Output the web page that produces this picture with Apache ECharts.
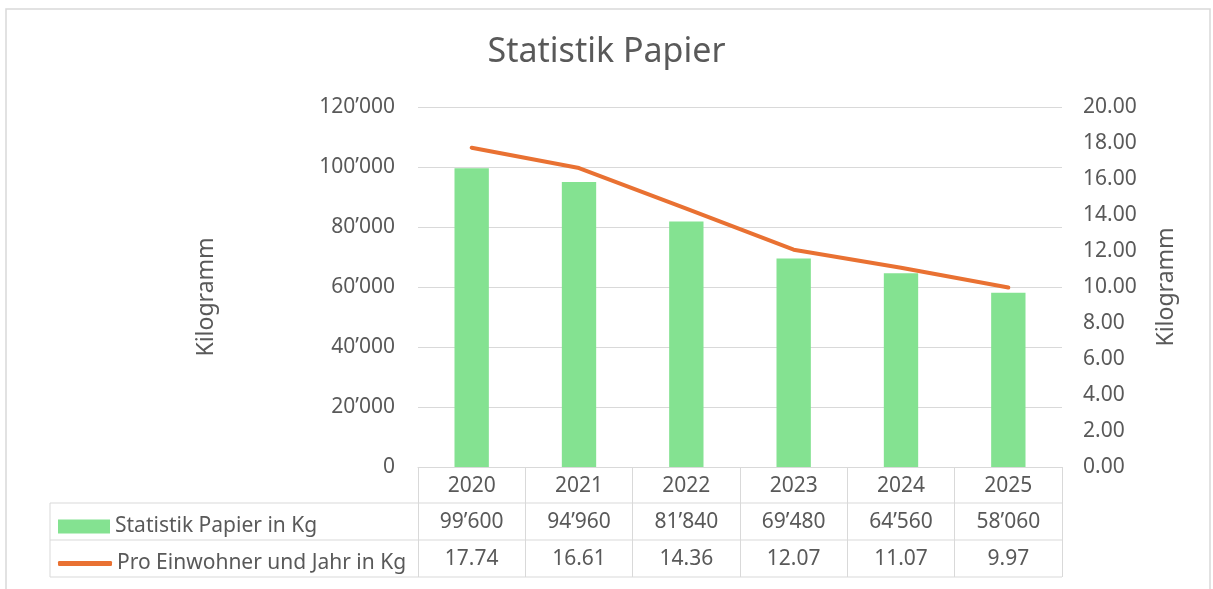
<!DOCTYPE html>
<html>
<head>
<meta charset="utf-8">
<script src="https://cdn.jsdelivr.net/npm/echarts@6/dist/echarts.min.js"></script>
<style>
  html, body { margin: 0; padding: 0; background: #fff; }
  #container { width: 1213px; height: 589px; }
</style>
</head>
<body>
<div id="container"></div>
<script>
// Daten
const years = ['2020', '2021', '2022', '2023', '2024', '2025'];
const paperKg = [99600, 94960, 81840, 69480, 64560, 58060];
const perCapita = [17.74, 16.61, 14.36, 12.07, 11.07, 9.97];

const barName = 'Statistik Papier in Kg';
const lineName = 'Pro Einwohner und Jahr in Kg';

const textColor = '#595959';
const gridColor = '#d9d9d9';
const font = 'Noto Sans';
const fs = 21;

function fmtThousands(v) {
  return String(v).replace(/\B(?=(\d{3})+(?!\d))/g, '\u2019');
}

const paperLabels = paperKg.map(fmtThousands);
const perCapitaLabels = perCapita.map(v => v.toFixed(2));

var dom = document.getElementById('container');
var myChart = echarts.init(dom, null, { renderer: 'canvas' });

// Zeile der Datentabelle als eigene x-Achse
function tableAxis(data, offset) {
  return {
    type: 'category',
    data: data,
    position: 'bottom',
    offset: offset,
    axisLine: { show: false, onZero: false },
    axisTick: { show: false },
    axisLabel: {
      interval: 0,
      margin: 9,
      color: textColor,
      fontSize: fs,
      fontFamily: font
    },
    splitLine: { show: false }
  };
}

function hLine(y) {
  return {
    type: 'line',
    shape: { x1: 50, y1: y, x2: 1062, y2: y },
    style: { stroke: gridColor, lineWidth: 1 },
    silent: true
  };
}

var option = {
  animation: false,
  textStyle: { fontFamily: font },
  title: {
    text: 'Statistik Papier',
    left: 'center',
    top: 30,
    textStyle: { color: textColor, fontSize: 34, fontWeight: 'normal', fontFamily: font }
  },
  legend: [
    {
      orient: 'vertical',
      left: 53,
      top: 511,
      itemWidth: 52,
      itemHeight: 14,
      textStyle: { color: textColor, fontSize: fs, fontFamily: font },
      data: [{ name: barName, icon: 'rect' }],
      selectedMode: false
    },
    {
      orient: 'vertical',
      left: 53,
      top: 548,
      itemWidth: 54,
      itemHeight: 5,
      textStyle: { color: textColor, fontSize: fs, fontFamily: font },
      data: [{ name: lineName, icon: 'roundRect' }],
      selectedMode: false
    }
  ],
  grid: {
    left: 418,
    right: 151,
    top: 107,
    bottom: 122,
    containLabel: false
  },
  xAxis: [
    {
      type: 'category',
      data: years,
      position: 'bottom',
      axisLine: { show: true, onZero: false, lineStyle: { color: gridColor } },
      axisTick: { show: true, interval: 0, length: 110, lineStyle: { color: gridColor } },
      axisLabel: { interval: 0, margin: 9, color: textColor, fontSize: fs, fontFamily: font },
      splitLine: { show: false }
    },
    tableAxis(paperLabels, 36),
    tableAxis(perCapitaLabels, 73)
  ],
  yAxis: [
    {
      type: 'value',
      min: 0,
      max: 120000,
      interval: 20000,
      name: 'Kilogramm',
      nameLocation: 'middle',
      nameGap: 200,
      nameTextStyle: { color: textColor, fontSize: 23, fontFamily: font, padding: [0, 20, 0, 0] },
      axisLine: { show: false },
      axisTick: { show: false },
      axisLabel: {
        color: textColor,
        fontSize: fs,
        fontFamily: font,
        margin: 23,
        formatter: v => fmtThousands(v)
      },
      splitLine: { lineStyle: { color: gridColor, width: 1 } }
    },
    {
      type: 'value',
      min: 0,
      max: 20,
      interval: 2,
      name: 'Kilogramm',
      nameLocation: 'middle',
      nameGap: 93,
      nameTextStyle: { color: textColor, fontSize: 23, fontFamily: font },
      axisLine: { show: false },
      axisTick: { show: false },
      axisLabel: {
        color: textColor,
        fontSize: fs,
        fontFamily: font,
        margin: 21,
        formatter: v => v.toFixed(2)
      },
      splitLine: { show: false }
    }
  ],
  series: [
    {
      name: barName,
      type: 'bar',
      xAxisIndex: 0,
      yAxisIndex: 0,
      data: paperKg,
      barWidth: '32%',
      itemStyle: { color: '#84E291' }
    },
    {
      name: lineName,
      type: 'line',
      xAxisIndex: 0,
      yAxisIndex: 1,
      data: perCapita,
      symbol: 'none',
      smooth: false,
      lineStyle: { color: '#E97132', width: 4, cap: 'round' },
      itemStyle: { color: '#E97132' }
    }
  ],
  graphic: [
    // Rahmen des Diagramms
    {
      type: 'rect',
      shape: { x: 6, y: 9, width: 1204, height: 620 },
      style: { fill: 'none', stroke: gridColor, lineWidth: 1.5 },
      silent: true
    },
    // Tabellenlinien
    hLine(503),
    hLine(540),
    hLine(577),
    { type: 'line', shape: { x1: 50, y1: 503, x2: 50, y2: 577 }, style: { stroke: gridColor, lineWidth: 1 }, silent: true }
  ]
};

if (option && typeof option === 'object') {
  myChart.setOption(option);
}
</script>
</body>
</html>
